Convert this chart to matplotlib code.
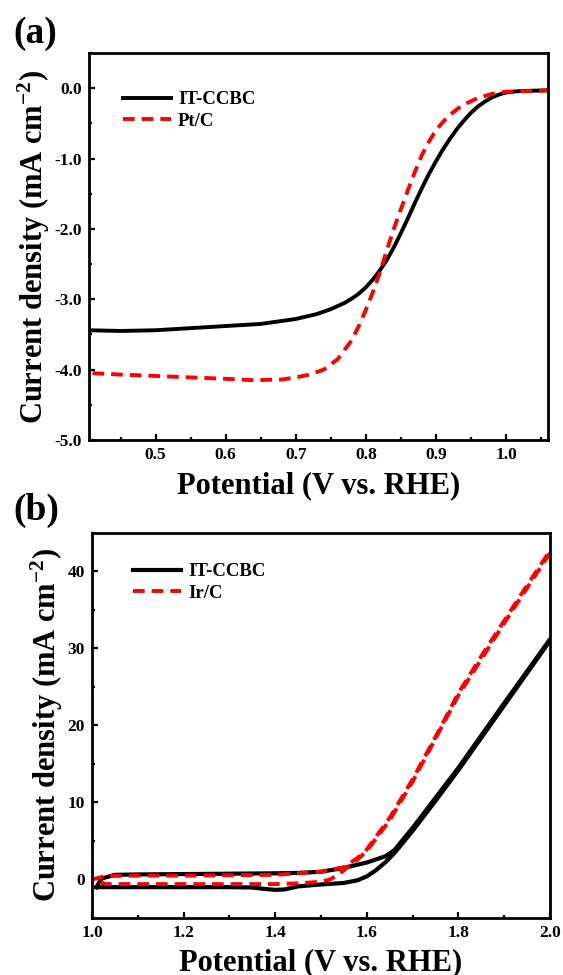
import matplotlib
matplotlib.use("Agg")
import matplotlib.pyplot as plt
from matplotlib.ticker import MultipleLocator, FormatStrFormatter

plt.rcParams['font.family'] = ['Liberation Serif', 'DejaVu Serif']
plt.rcParams['font.weight'] = 'bold'
plt.rcParams['axes.unicode_minus'] = False
plt.rcParams['mathtext.default'] = 'regular'

# ---------------- Panel (a): ORR LSV ----------------
orr_itccbc_v = [0.405, 0.45, 0.50, 0.55, 0.60, 0.65, 0.70, 0.73, 0.75, 0.77, 0.78, 0.79,
                0.80, 0.81, 0.82, 0.83, 0.84, 0.85, 0.86, 0.87, 0.88, 0.89, 0.90, 0.91,
                0.92, 0.93, 0.94, 0.95, 0.96, 0.97, 0.98, 0.99, 1.00, 1.02, 1.06]
orr_itccbc_j = [-3.44, -3.45, -3.44, -3.41, -3.38, -3.35, -3.28, -3.21, -3.14, -3.05, -2.99, -2.92,
                -2.83, -2.72, -2.59, -2.44, -2.26, -2.06, -1.85, -1.63, -1.42, -1.22, -1.04, -0.87,
                -0.72, -0.58, -0.46, -0.35, -0.26, -0.19, -0.13, -0.09, -0.06, -0.04, -0.03]

orr_ptc_v = [0.41, 0.45, 0.50, 0.55, 0.60, 0.64, 0.68, 0.70, 0.72, 0.74, 0.76, 0.78, 0.79,
             0.80, 0.81, 0.82, 0.83, 0.84, 0.85, 0.86, 0.87, 0.88, 0.89, 0.90, 0.91, 0.92,
             0.93, 0.94, 0.96, 0.98, 1.00, 1.06]
orr_ptc_j = [-4.05, -4.07, -4.09, -4.11, -4.13, -4.15, -4.14, -4.11, -4.07, -4.00, -3.85, -3.58, -3.38,
             -3.15, -2.90, -2.62, -2.30, -2.00, -1.72, -1.45, -1.19, -0.95, -0.76, -0.60, -0.48, -0.38,
             -0.30, -0.23, -0.14, -0.08, -0.05, -0.03]

# ---------------- Panel (b): OER CV-type loops ----------------
oer_itccbc_v = [1.01, 1.10, 1.20, 1.30, 1.35, 1.38, 1.40, 1.42, 1.45, 1.50, 1.55, 1.58, 1.60,
                1.62, 1.64, 1.66, 1.70, 1.75, 1.80, 1.85, 1.90, 1.95, 2.00,
                2.00, 1.90, 1.80, 1.70, 1.66, 1.64, 1.62, 1.60, 1.55, 1.50, 1.45, 1.40,
                1.30, 1.20, 1.10, 1.05, 1.02, 1.01]
oer_itccbc_j = [-1.0, -1.0, -1.0, -1.0, -1.05, -1.25, -1.35, -1.3, -0.9, -0.65, -0.45, -0.1, 0.4,
                1.2, 2.2, 3.4, 6.3, 10.2, 14.2, 18.4, 22.6, 26.8, 31.0,
                31.2, 22.9, 14.5, 6.7, 3.8, 3.0, 2.6, 2.2, 1.5, 1.0, 0.85, 0.8,
                0.75, 0.7, 0.65, 0.6, 0.1, -1.0]

oer_irc_v = [1.00, 1.03, 1.10, 1.20, 1.30, 1.40, 1.50, 1.55, 1.58, 1.60, 1.65, 1.70, 1.75,
             1.80, 1.85, 1.90, 1.95, 2.00,
             2.00, 1.90, 1.80, 1.70, 1.65, 1.60, 1.58, 1.56, 1.54, 1.52, 1.50, 1.45,
             1.40, 1.30, 1.20, 1.10, 1.03, 1.00]
oer_irc_j = [0.0, 0.45, 0.5, 0.5, 0.55, 0.6, 1.0, 1.6, 2.8, 3.9, 8.0, 13.0, 18.5,
             24.2, 29.0, 33.6, 38.2, 42.7,
             42.4, 33.3, 23.9, 12.7, 7.7, 3.7, 2.6, 1.7, 0.7, 0.0, -0.3, -0.5,
             -0.6, -0.6, -0.6, -0.6, -0.6, 0.0]

series_labels_a = ['IT-CCBC', 'Pt/C']
series_labels_b = ['IT-CCBC', 'Ir/C']
xlabel = 'Potential (V vs. RHE)'
ylabel = 'Current density (mA cm$^{-2}$)'

fig = plt.figure(figsize=(5.63, 9.75), dpi=100)
ax1 = fig.add_axes([0.1581, 0.5487, 0.8153, 0.3969])
ax2 = fig.add_axes([0.1634, 0.0585, 0.8135, 0.3949])

dash = (0, (3.0, 1.8))
lw = 2.8

ax1.plot(orr_itccbc_v, orr_itccbc_j, color='black', lw=lw, label=series_labels_a[0])
ax1.plot(orr_ptc_v, orr_ptc_j, color='#ff0000', lw=lw, linestyle=dash, label=series_labels_a[1])
ax1.set_xlim(0.405, 1.06)
ax1.set_ylim(-5.0, 0.5)
ax1.xaxis.set_major_locator(MultipleLocator(0.1))
ax1.xaxis.set_minor_locator(MultipleLocator(0.05))
ax1.yaxis.set_major_locator(MultipleLocator(1.0))
ax1.yaxis.set_minor_locator(MultipleLocator(0.5))
ax1.xaxis.set_major_formatter(FormatStrFormatter('%.1f'))
ax1.yaxis.set_major_formatter(FormatStrFormatter('%.1f'))

ax2.plot(oer_itccbc_v, oer_itccbc_j, color='black', lw=3.0, label=series_labels_b[0])
ax2.plot(oer_irc_v, oer_irc_j, color='#ff0000', lw=lw, linestyle=dash, label=series_labels_b[1])
ax2.set_xlim(1.0, 2.0)
ax2.set_ylim(-5, 45)
ax2.xaxis.set_major_locator(MultipleLocator(0.2))
ax2.xaxis.set_minor_locator(MultipleLocator(0.1))
ax2.yaxis.set_major_locator(MultipleLocator(10))
ax2.yaxis.set_minor_locator(MultipleLocator(5))
ax2.xaxis.set_major_formatter(FormatStrFormatter('%.1f'))
ax2.yaxis.set_major_formatter(FormatStrFormatter('%d'))

for ax, xpad in ((ax1, 6), (ax2, 5)):
    for s in ax.spines.values():
        s.set_linewidth(2.0)
    ax.tick_params(which='both', direction='in', top=False, right=False, width=1.6)
    ax.tick_params(which='major', length=4.5, labelsize=12.5, pad=5)
    ax.tick_params(which='minor', length=2.5)
    for t in ax.get_xticklabels() + ax.get_yticklabels():
        t.set_fontweight('bold')
    ax.set_xlabel(xlabel, fontsize=22, fontweight='bold', labelpad=xpad)
    ax.set_ylabel(ylabel, fontsize=22, fontweight='bold', labelpad=2)

leg_kw = dict(frameon=False, handlelength=2.56, handletextpad=0.37,
              labelspacing=0.25, borderpad=0, borderaxespad=0, loc='upper left',
              prop={'weight': 'bold', 'size': 13.5})
ax1.legend(bbox_to_anchor=(0.074, 0.902), **leg_kw)
ax2.legend(bbox_to_anchor=(0.0895, 0.922), **leg_kw)

fig.text(13 / 563, 1 - 16 / 975, '(a)', fontsize=27, fontweight='bold', ha='left', va='top')
fig.text(13 / 563, 1 - 493 / 975, '(b)', fontsize=27, fontweight='bold', ha='left', va='top')

fig.savefig('out.png', dpi=100)
